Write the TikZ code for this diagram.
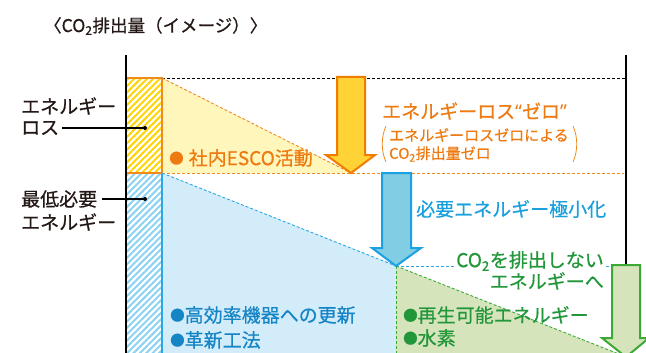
\documentclass[tikz,border=0pt]{standalone}
\usepackage{fontspec}
\setmainfont{Noto Sans CJK JP}[FakeBold=0.6]
\newfontfamily\qfont{Noto Sans}
\usetikzlibrary{patterns.meta}
\definecolor{ora}{HTML}{EE7A12}
\definecolor{oraline}{HTML}{F08A1E}
\definecolor{arrY}{HTML}{FFD335}
\definecolor{arrYb}{HTML}{F07C00}
\definecolor{fillY}{HTML}{FFF6BC}
\definecolor{hatchY}{HTML}{FFD400}
\definecolor{blueT}{HTML}{1AA0DC}
\definecolor{blueT2}{HTML}{1585C6}
\definecolor{blueL}{HTML}{2AA8E6}
\definecolor{fillB}{HTML}{D3ECF9}
\definecolor{hatchB}{HTML}{8CD2F2}
\definecolor{arrB}{HTML}{80CDE4}
\definecolor{arrBb}{HTML}{1BA1E2}
\definecolor{greenT}{HTML}{22973A}
\definecolor{fillG}{HTML}{D6E4BB}
\definecolor{arrGb}{HTML}{3AAA35}
\definecolor{ink}{HTML}{231815}
\newcommand\bul{\raisebox{1.5pt}{\fontsize{14.5}{14.5}\selectfont ●}}
\tikzset{
  txt/.style={inner sep=0pt, font=\fontsize{19}{23}\selectfont},
  small/.style={inner sep=0pt, font=\fontsize{15}{18}\selectfont},
  ttl/.style={inner sep=0pt, font=\fontsize{17.5}{20}\selectfont},
  dsh/.style={dash pattern=on 3pt off 2pt, line width=0.9pt},
  arrowbox/.style={line width=2pt, line join=miter},
  axis/.style={line width=2.5pt, draw=black},
  leader/.style={line width=1.5pt, draw=black},
}
\begin{document}
\begin{tikzpicture}[x=1pt,y=-1pt]
\useasboundingbox (0,0) rectangle (646,353);
\clip (0,0) rectangle (646,353);
% light fills
\fill[fillY] (162,78) -- (351,173) -- (162,173) -- cycle;
\fill[fillB] (162,173) -- (396,266) -- (396,354) -- (162,354) -- cycle;
\fill[fillG] (396,266) -- (624,356) -- (396,356) -- cycle;
% hatched columns
\fill[white] (127,78) rectangle (162,354);
\fill[pattern={Lines[angle=45,distance=4.5pt,line width=2pt]}, pattern color=hatchY] (127,78) rectangle (162,173);
\fill[pattern={Lines[angle=45,distance=4.5pt,line width=2pt]}, pattern color=hatchB] (127,173) rectangle (162,354);
\draw[line width=1.5pt, blueL] (162,173) -- (162,354);
\draw[line width=1.5pt, oraline] (127,78) -- (162,78) -- (162,173) -- (127,173);
% dashed guides
\draw[dsh, black] (162,78) -- (626,78);
\draw[dsh, oraline] (162,78) -- (351,173);
\draw[dsh, oraline] (162,173) -- (624,173);
\draw[dsh, blueL] (162,173) -- (396,266);
\draw[dsh, blueL] (396,266) -- (612,266);
\draw[dsh, arrGb] (396,266) -- (624,356);
\draw[dsh, arrGb] (396,266) -- (396,354);
% axes
\draw[axis] (126,55) -- (126,354);
\draw[axis] (626,55) -- (626,266);
% arrows
\draw[arrowbox, draw=arrYb, fill=arrY] (337,77) -- (365,77) -- (365,155) -- (375,155) -- (351,173) -- (326,155) -- (337,155) -- cycle;
\draw[arrowbox, draw=arrBb, fill=arrB] (382,173) -- (411,173) -- (411,248) -- (421,248) -- (396,266) -- (372,248) -- (382,248) -- cycle;
\draw[arrowbox, draw=arrGb, fill=fillG] (612,265) -- (640,265) -- (640,338) -- (649,338) -- (626,357) -- (602,338) -- (612,338) -- cycle;
% title
\node[ttl, anchor=west, text=ink] (title) at (44,26) {〈CO\textsubscript{2}排出量（イメージ）〉};
% left labels
\node[txt, anchor=west, text=ink] (lossA) at (21,106) {エネルギー};
\node[txt, anchor=west, text=ink] (lossB) at (21,128) {ロス};
\coordinate (lossDot) at (145,128);
\draw[leader] ([xshift=3pt]lossB.east) -- (lossDot);
\fill[black] (lossDot) circle (2pt);
\node[txt, anchor=west, text=ink] (minA) at (21,199) {最低必要};
\node[txt, anchor=west, text=ink] (minB) at (21,222) {エネルギー};
\coordinate (minDot) at (145,199);
\draw[leader] ([xshift=5pt]minA.east) -- (minDot);
\fill[black] (minDot) circle (2pt);
% orange texts
\node[txt, anchor=west, text=ora] (esco) at (169,158) {\bul\hspace{5pt}社内ESCO活動};
\node[txt, anchor=west, text=ora] (zero) at (382,111) {エネルギーロス{\qfont “}ゼロ{\qfont ”}};
\node[small, anchor=west, text=ora] (zeroA) at (389,135) {エネルギーロスゼロによる};
\node[small, anchor=west, text=ora] (zeroB) at (389,154) {CO\textsubscript{2}排出量ゼロ};
\draw[oraline, line width=0.8pt] (386,126) .. controls (381,137) and (381,151) .. (386,162);
\draw[oraline, line width=0.8pt] (573,126) .. controls (578,137) and (578,151) .. (573,162);
% blue texts
\node[txt, anchor=west, text=blueT] (minz) at (416,209) {必要エネルギー極小化};
\node[txt, anchor=west, text=blueT2] (b1) at (170,315) {\bul 高効率機器への更新};
\node[txt, anchor=west, text=blueT2] (b2) at (170,340) {\bul 革新工法};
% green texts
\node[txt, anchor=east, text=greenT, fill=white] (co2a) at (604,261) {CO\textsubscript{2}を排出しない};
\node[txt, anchor=east, text=greenT] (co2b) at (604,281) {エネルギーへ};
\node[txt, anchor=west, text=greenT] (g1) at (403,315) {\bul 再生可能エネルギー};
\node[txt, anchor=west, text=greenT] (g2) at (403,338) {\bul 水素};
\end{tikzpicture}
\end{document}
